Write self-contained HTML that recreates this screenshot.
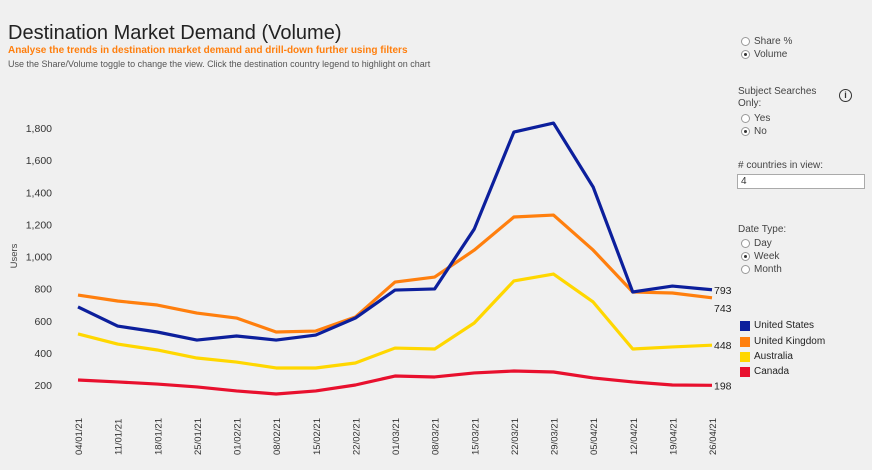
<!DOCTYPE html>
<html><head><meta charset="utf-8"><style>
body{margin:0;width:872px;height:470px;background:#f0f0f0;font-family:"Liberation Sans",sans-serif;overflow:hidden;position:relative;color:#333}
.abs{position:absolute}
.radio{position:absolute;font-size:10px;color:#444;display:flex;align-items:center}
.radio i{display:inline-block;width:9px;height:9px;border:1px solid #999;border-radius:50%;background:#fff;margin-right:4px;box-sizing:border-box;position:relative}
.radio i.on::after{content:"";position:absolute;left:2px;top:2px;width:3px;height:3px;border-radius:50%;background:#333}
.lbl{position:absolute;font-size:10px;color:#444}
.leg{position:absolute;font-size:10px;color:#222;display:flex;align-items:center}
.leg b{display:inline-block;width:10px;height:10px;margin-right:4px}
</style></head><body>
<div class="abs" style="left:8px;top:22px;font-size:20px;color:#222">Destination Market Demand (Volume)</div>
<div class="abs" style="left:8px;top:45px;font-size:10px;color:#ff7f0e;font-weight:bold">Analyse the trends in destination market demand and drill-down further using filters</div>
<div class="abs" style="left:8px;top:59px;font-size:9px;color:#555">Use the Share/Volume toggle to change the view. Click the destination country legend to highlight on chart</div>

<div class="radio" style="left:741px;top:36px"><i></i>Share %</div>
<div class="radio" style="left:741px;top:49px"><i class="on"></i>Volume</div>
<div class="lbl" style="left:738px;top:86px;line-height:12px">Subject Searches<br>Only:</div>
<div class="abs" style="left:839px;top:89px;width:11px;height:11px;border:1.5px solid #333;border-radius:50%;font-size:9px;text-align:center;line-height:11px;font-weight:bold">i</div>
<div class="radio" style="left:741px;top:113px"><i></i>Yes</div>
<div class="radio" style="left:741px;top:126px"><i class="on"></i>No</div>
<div class="lbl" style="left:738px;top:160px">#&nbsp;countries in view:</div>
<div class="abs" style="left:737px;top:174px;width:123px;height:13px;background:#fff;border:1px solid #aaa;font-size:10px;padding-left:3px;line-height:13px">4</div>
<div class="lbl" style="left:738px;top:224px">Date Type:</div>
<div class="radio" style="left:741px;top:238px"><i></i>Day</div>
<div class="radio" style="left:741px;top:251px"><i class="on"></i>Week</div>
<div class="radio" style="left:741px;top:264px"><i></i>Month</div>

<div class="leg" style="left:740px;top:320px"><b style="background:#0c1f9c"></b>United States</div>
<div class="leg" style="left:740px;top:336px"><b style="background:#ff7f0e"></b>United Kingdom</div>
<div class="leg" style="left:740px;top:351px"><b style="background:#ffd700"></b>Australia</div>
<div class="leg" style="left:740px;top:366px"><b style="background:#e8102e"></b>Canada</div>

<svg id="chart" class="abs" style="left:0;top:0" width="872" height="470"></svg>
<script>
const categories=["04/01/21","11/01/21","18/01/21","25/01/21","01/02/21","08/02/21","15/02/21","22/02/21","01/03/21","08/03/21","15/03/21","22/03/21","29/03/21","05/04/21","12/04/21","19/04/21","26/04/21"];
const usValues=[686,567,530,480,505,480,511,617,791,798,1171,1775,1831,1433,779,816,793];
const ukValues=[760,723,698,648,617,530,536,623,841,872,1040,1246,1258,1040,779,773,743];
const auValues=[518,455,418,368,343,306,306,337,430,424,586,848,891,717,424,437,448];
const caValues=[231,219,206,188,163,144,163,200,256,250,275,287,281,244,219,200,198];
const yTicks=[200,400,600,800,1000,1200,1400,1600,1800];
const seriesNames=["united-states","united-kingdom","australia","canada"];
const seriesColors=["#0c1f9c","#ff7f0e","#ffd700","#e8102e"];
const seriesData=[usValues,ukValues,auValues,caValues];

const NS="http://www.w3.org/2000/svg";
const svg=document.getElementById('chart');
const x0=78,x1=712,yBase=385,pxPer=0.1606;
const xs=i=>x0+i*(x1-x0)/(categories.length-1);
const ys=v=>yBase-(v-200)*pxPer;
function mk(t,a){const e=document.createElementNS(NS,t);for(const k in a)e.setAttribute(k,a[k]);svg.appendChild(e);return e;}
yTicks.forEach(v=>{
  const t=mk('text',{x:52,y:ys(v)+4,'text-anchor':'end','font-size':10.5,fill:'#333'});
  
  
  t.textContent=v.toLocaleString('en-US');
});
const yt=mk('text',{x:0,y:0,transform:'translate(17,256) rotate(-90)','text-anchor':'middle','font-size':9.5,fill:'#444'});


yt.textContent='Users';
categories.forEach((c,i)=>{
  const t=mk('text',{x:0,y:0,transform:`translate(${xs(i)+4},455) rotate(-90)`,'font-size':9.5,fill:'#333'});
  
  
  t.textContent=c;
});
[3,2,1,0].forEach(s=>{
  const d=seriesData[s];
  const p=mk('polyline',{points:d.map((v,i)=>xs(i)+','+ys(v)).join(' '),fill:'none',stroke:seriesColors[s],'stroke-width':3.2,'stroke-linejoin':'round'});
  
  
  const last=d[d.length-1];
  const off=s===1?14:4;
  const t=mk('text',{x:x1+2,y:ys(last)+off,'font-size':10.5,fill:'#222'});
  
  
  t.textContent=last;
});
</script>
</body></html>
